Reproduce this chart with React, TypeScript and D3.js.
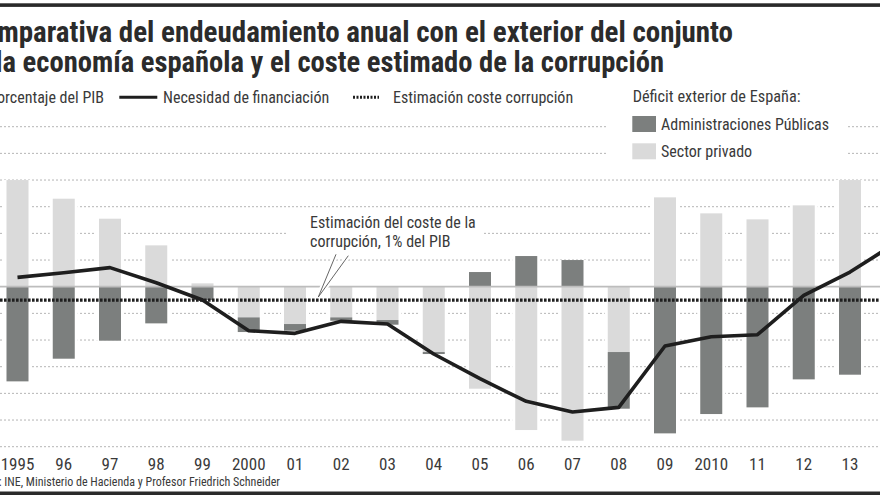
import React from "react";
import * as d3 from "d3";

const years = [1995, 1996, 1997, 1998, 1999, 2000, 2001, 2002, 2003, 2004, 2005, 2006, 2007, 2008, 2009, 2010, 2011, 2012, 2013];
const yearLabels = ["1995", "96", "97", "98", "99", "2000", "01", "02", "03", "04", "05", "06", "07", "08", "09", "2010", "11", "12", "13"];
const sectorPrivado = [8.0, 6.6, 5.1, 3.1, 0.25, -2.3, -2.8, -2.3, -2.5, -4.9, -7.65, -10.75, -11.55, -4.9, 6.7, 5.5, 5.05, 6.1, 8.0];
const administraciones = [-7.1, -5.4, -4.05, -2.75, -1.0, -1.1, -0.5, -0.25, -0.35, -0.15, 1.1, 2.3, 2.0, -4.25, -11.0, -9.55, -9.05, -6.95, -6.6];
const lineYears = [1995, 1996, 1997, 1998, 1999, 2000, 2001, 2002, 2003, 2004, 2005, 2006, 2007, 2008, 2009, 2010, 2011, 2012, 2013, 2014];
const necesidad = [0.7, 1.05, 1.43, 0.3, -1.0, -3.3, -3.5, -2.6, -2.8, -5.05, -6.9, -8.6, -9.4, -9.05, -4.45, -3.75, -3.6, -0.65, 1.1, 3.3];
const corrupcion = -1;
const gridTicks = [-12, -10, -8, -6, -4, -2, 2, 4, 6, 8, 10, 12];

const FONT = "'Liberation Sans Narrow', 'Roboto Condensed', Roboto, sans-serif";
const DARK = "#7c7f7e";
const LIGHT = "#dadada";
const TEXT = "#3a3a3a";

export default function App() {
  const W = 880, H = 495;
  const x = d3.scaleLinear().domain([1995, 2013]).range([17.5, 850]);
  const y = d3.scaleLinear().domain([-12, 12]).range([446.7, 126.7]);
  const barW = 22;

  const rows = years.map((yr, i) => ({ year: yr, privado: sectorPrivado[i], publico: administraciones[i] }));
  const stack = d3.stack<any>().keys(["privado", "publico"]).offset(d3.stackOffsetDiverging);
  const series = stack(rows);
  const colors: Record<string, string> = { privado: LIGHT, publico: DARK };

  const lineGen = d3.line<number>().x((_, i) => x(lineYears[i])).y((d) => y(d));

  return (
    <svg width={W} height={H} style={{ position: "absolute", left: 0, top: 0, background: "#fff" }} fontFamily={FONT}>
      <rect x={0} y={0} width={W} height={H} fill="#fff" />
      {/* top and bottom rules */}
      <rect x={0} y={3.3} width={W} height={3.6} fill="#2a2a2a" />
      <rect x={0} y={491.5} width={W} height={3.5} fill="#2a2a2a" />

      {/* title */}
      <text x={733} y={41.7} textAnchor="end" fontSize={29} fontWeight={700} fill="#2b2b2b">Comparativa del endeudamiento anual con el exterior del conjunto</text>
      <text x={664} y={71.7} textAnchor="end" fontSize={28.6} fontWeight={700} fill="#2b2b2b">de la economía española y el coste estimado de la corrupción</text>

      {/* grid */}
      {gridTicks.map((t) => (
        <line key={t} x1={0} x2={W} y1={y(t)} y2={y(t)} stroke="#b5b5b5" strokeWidth={1} strokeDasharray="2,2" />
      ))}

      {/* legend background */}
      <rect x={607} y={86} width={240} height={76} fill="#fff" />

      {/* legend */}
      <text x={104} y={102.7} textAnchor="end" fontSize={16} fill={TEXT}>Porcentaje del PIB</text>
      <line x1={119.3} x2={157.3} y1={97.3} y2={97.3} stroke="#1e1e1e" strokeWidth={3} />
      <text x={163} y={102.7} fontSize={16} fill={TEXT}>Necesidad de financiación</text>
      <line x1={353} x2={379} y1={97.3} y2={97.3} stroke="#1e1e1e" strokeWidth={3} strokeDasharray="2,1.5" />
      <text x={393} y={102.7} fontSize={16} fill={TEXT}>Estimación coste corrupción</text>
      <text x={632.7} y={101.7} fontSize={16.3} fill={TEXT}>Déficit exterior de España:</text>
      <rect x={632.3} y={116} width={23.7} height={16} fill={DARK} />
      <text x={661} y={130} fontSize={16} fill={TEXT}>Administraciones Públicas</text>
      <rect x={632.3} y={143.3} width={23.7} height={16} fill={LIGHT} />
      <text x={661} y={156.7} fontSize={16} fill={TEXT}>Sector privado</text>

      {/* white padding around bars */}
      {rows.map((r, i) => {
        const top = d3.max(series, (s) => s[i][1]) as number;
        const bot = d3.min(series, (s) => s[i][0]) as number;
        return (
          <rect key={"pad" + r.year} x={x(r.year) - barW / 2 - 3} width={barW + 6} y={y(Math.max(top, 0))} height={y(Math.min(bot, 0)) - y(Math.max(top, 0))} fill="#fff" />
        );
      })}

      {/* bars */}
      {series.map((s) => (
        <g key={s.key} fill={colors[s.key]}>
          {s.map((d, i) => (
            <rect key={i} x={x(years[i]) - barW / 2} width={barW} y={y(Math.max(d[0], d[1]))} height={Math.abs(y(d[0]) - y(d[1]))} />
          ))}
        </g>
      ))}

      {/* zero line */}
      <line x1={0} x2={W} y1={y(0)} y2={y(0)} stroke="#bdbdbd" strokeWidth={1.8} />

      {/* annotation */}
      <rect x={287} y={211} width={196} height={40} fill="#fff" />
      <text x={310} y={228.3} fontSize={16} fill={TEXT}>Estimación del coste de la</text>
      <text x={310} y={246.7} fontSize={16} fill={TEXT}>corrupción, 1% del PIB</text>
      <path d={`M336,254.3L${318.3},${y(corrupcion) - 3}L348.3,255.7`} fill="none" stroke="#fff" strokeWidth={5} />
      <path d={`M336,254.3L${318.3},${y(corrupcion) - 3}L348.3,255.7`} fill="none" stroke="#555" strokeWidth={0.9} />

      {/* corruption estimate */}
      <line x1={0} x2={W} y1={y(corrupcion)} y2={y(corrupcion)} stroke="#1e1e1e" strokeWidth={3.2} strokeDasharray="2.6,1.4" />

      {/* financing need line */}
      <path d={lineGen(necesidad) as string} fill="none" stroke="#1e1e1e" strokeWidth={3.6} strokeLinejoin="round" />

      {/* year labels */}
      {years.map((yr, i) => (
        <text key={yr} x={x(yr)} y={470} textAnchor="middle" fontSize={17} fill={TEXT}>{yearLabels[i]}</text>
      ))}

      {/* source */}
      <text x={280} y={486} textAnchor="end" fontSize={12} fill={TEXT}>Fuente: INE, Ministerio de Hacienda y Profesor Friedrich Schneider</text>
    </svg>
  );
}
